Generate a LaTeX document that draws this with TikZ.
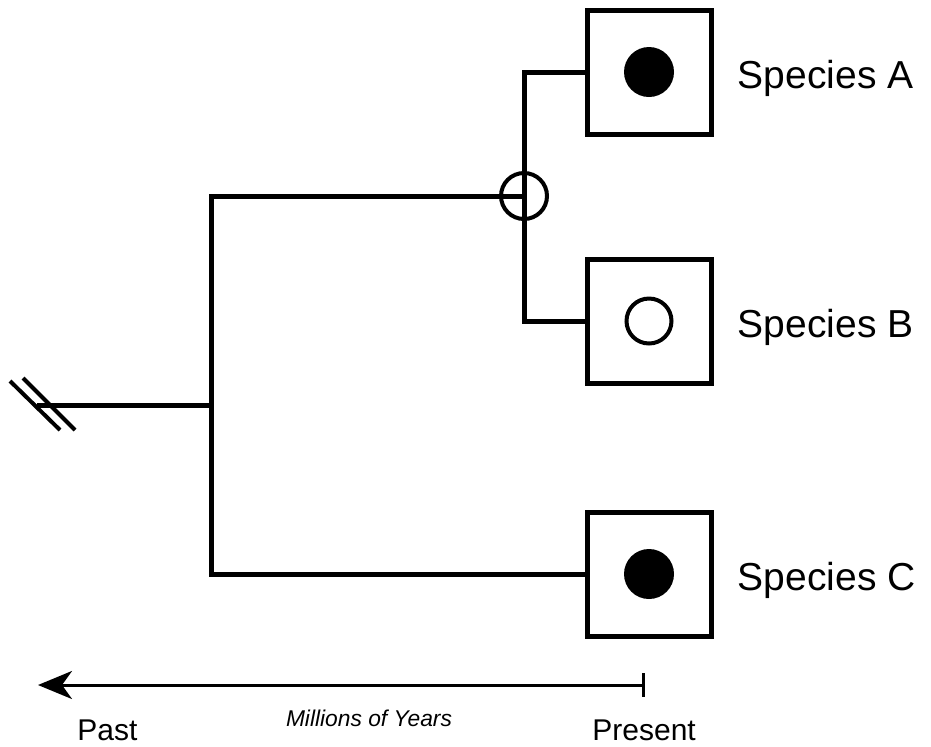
\documentclass[tikz,border=0pt]{standalone}
\usepackage{fontspec}
\setmainfont{Liberation Sans}
\usepackage{tikz}
\usetikzlibrary{arrows.meta, positioning, calc}

\begin{document}
\begin{tikzpicture}[x=0.5pt, y=-0.5pt, node distance=12pt, auto]
    % Node Styles
    \tikzstyle{speciesbox} = [rectangle, draw, line width=2.5pt, minimum size=62pt, inner sep=0pt]
    \tikzstyle{fulldot} = [circle, fill=black, minimum size=25pt, inner sep=0pt]
    \tikzstyle{emptydot} = [circle, draw, line width=2pt, minimum size=22.5pt, inner sep=0pt]
    \tikzstyle{junction} = [circle, draw, line width=2pt, minimum size=23pt, inner sep=0pt]
    \tikzstyle{species} = [inner sep=0pt, font=\fontsize{19.5}{23}\selectfont, anchor=base west, yshift=-8pt]
    \tikzstyle{timelabel} = [inner sep=0pt, font=\fontsize{15}{18}\selectfont, anchor=base west]
    \tikzstyle{branch} = [draw, line width=2.5pt]
    \tikzstyle{timeline} = [draw, line width=1.5pt, {Stealth[length=17pt, width=14pt, inset=5pt]}-{Bar[width=12pt]}]

    \useasboundingbox (0,0) rectangle (931,746);

    % --- RIGHT COLUMN: SPECIES ---
    \node [speciesbox] (boxA) at (649,72) {};
    \node [speciesbox] (boxB) at (649,321) {};
    \node [speciesbox] (boxC) at (649,574) {};
    \node [fulldot] (dotA) at (boxA) {};
    \node [emptydot] (dotB) at (boxB) {};
    \node [fulldot] (dotC) at (boxC) {};
    \node [species, right=12pt of boxA, anchor=base west] (nameA) {Species A};
    \node [species, right=12pt of boxB, anchor=base west] (nameB) {Species B};
    \node [species, right=12pt of boxC, anchor=base west] (nameC) {Species C};

    % --- TREE ---
    \coordinate (rootEnd) at (37,405);
    \coordinate (split) at (211,405);
    \node [junction] (jAB) at (524,196) {};

    \path [branch] (rootEnd) -- (split);
    \path [branch] (split) |- (jAB.center);
    \path [branch] (split) |- (boxC.west);
    \path [branch] (jAB.center) |- (boxA.west);
    \path [branch] (jAB.center) |- (boxB.west);

    % break marks on the root
    \draw [line width=2pt] (10,381) -- (60,430);
    \draw [line width=2pt] (23,378) -- (75,430);

    % --- BOTTOM: TIME AXIS ---
    \coordinate (past) at (38,685);
    \coordinate (present) at (645,685);
    \path [timeline] (past) -- (present);
    \node [timelabel] (pastlbl) at (77,740) {Past};
    \node [timelabel] (presentlbl) at (592,740) {Present};
    \node [inner sep=0pt, anchor=base, font=\fontsize{11.4}{14}\selectfont\itshape] (years) at (369,726) {Millions of Years};

\end{tikzpicture}
\end{document}
